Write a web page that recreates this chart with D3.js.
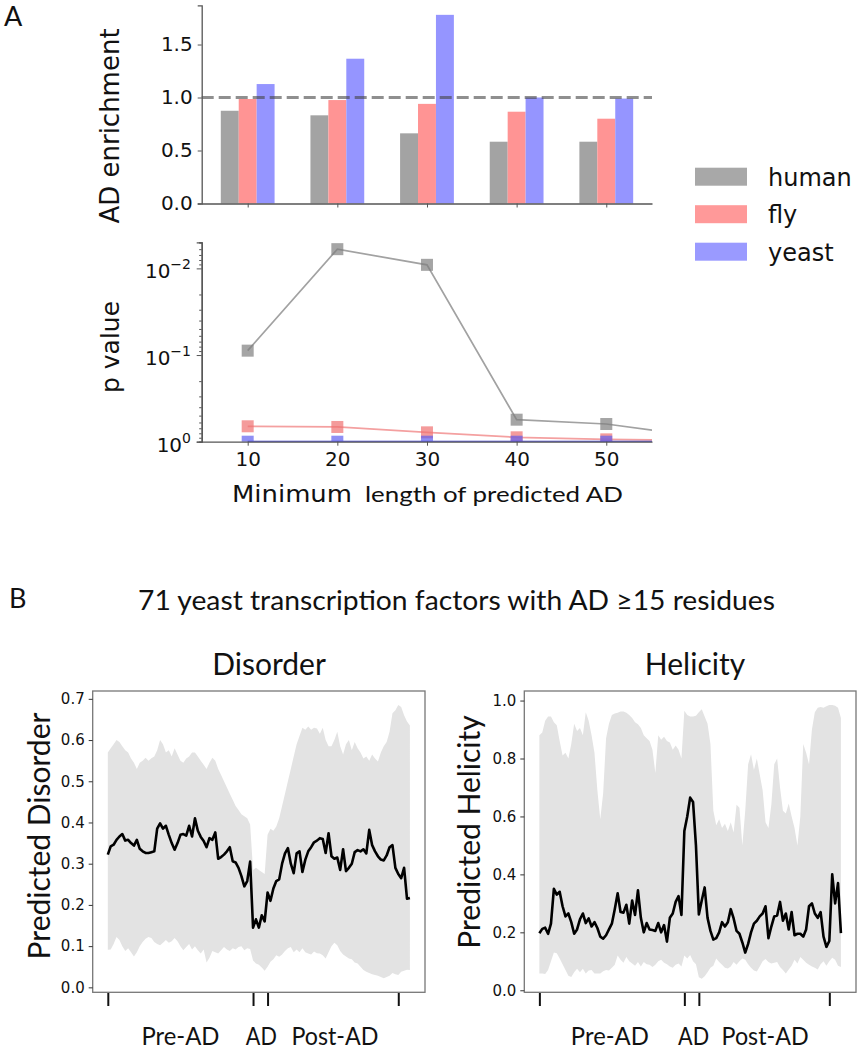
<!DOCTYPE html>
<html>
<head>
<meta charset="utf-8">
<script src="https://cdn.jsdelivr.net/npm/d3@7/dist/d3.min.js"></script>
<style>
body { margin:0; background:#fff; }
text { fill:#111; }
.mpl { font-family:"DejaVu Sans", sans-serif; }
.cal { font-family:Lato, "Open Sans", sans-serif; }
</style>
</head>
<body>
<svg id="fig" width="863" height="1050"></svg>
<script>
// ---- panel A data ----
const lengths      = [10, 20, 30, 40, 50];
const species      = ["human", "fly", "yeast"];
const enrichHuman  = [0.875, 0.832, 0.662, 0.583, 0.583];
const enrichFly    = [0.986, 0.976, 0.940, 0.866, 0.800];
const enrichYeast  = [1.127, 1.366, 1.780, 1.000, 0.990];
const pLengths     = [10, 20, 30, 40, 50, 60];
const pHuman       = [0.089, 0.006, 0.0091, 0.557, 0.625, 0.86];
const pFly         = [0.664, 0.676, 0.78, 0.89, 0.94, 0.97];
const pYeast       = [1, 1, 1, 1, 1, 1];
const enrichTicks  = [0.0, 0.5, 1.0, 1.5];
const pTicks       = [0.01, 0.1, 1];
const pTickExp     = ["\u22122", "\u22121", "0"];

// ---- panel B data (window position along TF, AD = 50..55) ----
const regionTicks  = [0, 50, 55, 100];
const regionLabels = ["Pre-AD", "AD", "Post-AD"];
const disMean = [0.322,0.342,0.346,0.358,0.366,0.372,0.356,0.358,0.350,0.344,0.358,0.336,0.330,0.326,0.326,0.328,0.330,0.385,0.398,0.385,
 0.392,0.370,0.350,0.334,0.350,0.370,0.372,0.368,0.392,0.366,0.410,0.380,0.365,0.355,0.340,0.362,0.358,0.376,0.312,0.316,
 0.322,0.330,0.340,0.306,0.303,0.290,0.270,0.245,0.258,0.305,0.145,0.165,0.145,0.175,0.160,0.230,0.210,0.240,0.258,0.262,
 0.300,0.325,0.338,0.300,0.277,0.325,0.330,0.280,0.310,0.330,0.340,0.352,0.356,0.362,0.360,0.326,0.374,0.318,0.312,0.315,
 0.285,0.335,0.282,0.290,0.300,0.328,0.333,0.330,0.335,0.325,0.382,0.345,0.330,0.318,0.310,0.308,0.320,0.340,0.345,0.290,
 0.275,0.265,0.290,0.215,0.217];
const disUpper = [0.570,0.580,0.590,0.600,0.595,0.585,0.575,0.570,0.555,0.545,0.530,0.545,0.550,0.557,0.550,0.556,0.560,0.575,0.600,0.590,
 0.570,0.575,0.560,0.580,0.565,0.550,0.545,0.555,0.560,0.570,0.570,0.560,0.550,0.540,0.530,0.545,0.557,0.550,0.530,0.515,
 0.500,0.485,0.470,0.455,0.440,0.430,0.420,0.415,0.410,0.395,0.285,0.290,0.285,0.280,0.275,0.370,0.385,0.380,0.390,0.410,
 0.440,0.470,0.500,0.530,0.560,0.590,0.610,0.630,0.625,0.633,0.625,0.630,0.628,0.615,0.630,0.600,0.585,0.585,0.600,0.620,
 0.585,0.565,0.590,0.600,0.575,0.595,0.580,0.570,0.555,0.560,0.550,0.565,0.555,0.548,0.570,0.585,0.595,0.620,0.665,0.672,
 0.685,0.680,0.660,0.645,0.635];
const disLower = [0.091,0.092,0.105,0.122,0.115,0.100,0.088,0.095,0.085,0.075,0.085,0.100,0.110,0.118,0.122,0.120,0.110,0.105,0.102,0.108,
 0.115,0.108,0.112,0.120,0.112,0.100,0.090,0.098,0.105,0.092,0.100,0.090,0.082,0.092,0.060,0.072,0.088,0.085,0.082,0.090,
 0.098,0.092,0.088,0.095,0.092,0.098,0.100,0.090,0.095,0.093,0.065,0.058,0.055,0.048,0.040,0.050,0.062,0.068,0.078,0.074,
 0.080,0.088,0.095,0.098,0.085,0.092,0.085,0.095,0.085,0.082,0.080,0.087,0.083,0.082,0.078,0.070,0.085,0.100,0.108,0.102,
 0.088,0.080,0.075,0.070,0.068,0.060,0.058,0.050,0.042,0.038,0.035,0.032,0.030,0.028,0.025,0.022,0.025,0.028,0.035,0.032,
 0.030,0.038,0.040,0.043,0.042];
const helMean = [0.197,0.212,0.216,0.195,0.230,0.350,0.330,0.340,0.290,0.255,0.265,0.235,0.195,0.210,0.245,0.265,0.232,0.248,0.220,0.235,
 0.215,0.185,0.178,0.190,0.210,0.230,0.280,0.335,0.270,0.268,0.295,0.230,0.310,0.260,0.345,0.250,0.200,0.232,0.210,0.208,
 0.205,0.232,0.200,0.225,0.168,0.250,0.265,0.305,0.325,0.260,0.550,0.600,0.665,0.650,0.500,0.262,0.310,0.355,0.250,0.205,
 0.175,0.180,0.200,0.235,0.220,0.235,0.280,0.248,0.205,0.195,0.165,0.130,0.160,0.200,0.230,0.240,0.255,0.265,0.290,0.180,
 0.220,0.255,0.258,0.305,0.240,0.265,0.210,0.270,0.190,0.195,0.195,0.185,0.210,0.290,0.300,0.265,0.250,0.270,0.185,0.150,
 0.170,0.400,0.300,0.370,0.197];
const helUpper = [0.880,0.890,0.930,0.945,0.945,0.925,0.915,0.860,0.810,0.820,0.800,0.850,0.920,0.895,0.905,0.880,0.960,0.930,0.880,0.820,
 0.690,0.590,0.680,0.870,0.920,0.950,0.955,0.958,0.962,0.962,0.958,0.950,0.940,0.925,0.918,0.905,0.880,0.870,0.860,0.830,
 0.750,0.880,0.865,0.875,0.860,0.855,0.830,0.845,0.830,0.800,0.965,0.950,0.945,0.945,0.948,0.960,0.970,0.945,0.920,0.850,
 0.620,0.570,0.590,0.560,0.575,0.550,0.580,0.545,0.640,0.630,0.500,0.620,0.780,0.815,0.760,0.800,0.745,0.690,0.580,0.560,
 0.640,0.780,0.800,0.700,0.620,0.610,0.645,0.600,0.560,0.500,0.600,0.850,0.820,0.780,0.900,0.960,0.975,0.978,0.975,0.980,
 0.985,0.985,0.982,0.975,0.940];
const helLower = [0.058,0.058,0.056,0.070,0.100,0.130,0.128,0.110,0.090,0.070,0.050,0.046,0.062,0.074,0.062,0.074,0.058,0.068,0.070,0.058,
 0.058,0.058,0.066,0.070,0.068,0.078,0.088,0.120,0.105,0.095,0.115,0.100,0.092,0.085,0.098,0.082,0.098,0.090,0.088,0.080,
 0.088,0.100,0.105,0.095,0.090,0.082,0.078,0.088,0.092,0.082,0.120,0.110,0.122,0.100,0.090,0.045,0.040,0.048,0.062,0.078,
 0.085,0.110,0.098,0.088,0.078,0.075,0.082,0.098,0.088,0.100,0.110,0.105,0.090,0.078,0.068,0.065,0.082,0.100,0.108,0.098,
 0.092,0.095,0.098,0.080,0.070,0.058,0.072,0.085,0.105,0.092,0.115,0.105,0.095,0.088,0.082,0.078,0.072,0.090,0.100,0.085,
 0.100,0.112,0.105,0.085,0.080];

const barColor    = {human:"#a3a3a3", fly:"#ff9494", yeast:"#9595ff"};
const markerColor = {human:"#7f7f7f", fly:"#f07070", yeast:"#6060f0"};
const lineColor   = {human:"#a2a2a2", fly:"#f4a0a0", yeast:"#3030c8"};

const svg = d3.select("#fig");
const axisGrey = "#555";

function styleAxis(g) {
	g.select(".domain").attr("stroke", axisGrey).attr("stroke-width", 1.3);
	g.selectAll(".tick line").attr("stroke", axisGrey);
}

// ================= panel A : enrichment bars =================
const xA = d3.scaleLinear().domain([4.87, 55.1]).range([201.7, 652]);
const yBar = d3.scaleLinear().domain([0, 1.87]).range([203.5, 5.3]);
const barW = xA(12) - xA(10);
const enrich = {human:enrichHuman, fly:enrichFly, yeast:enrichYeast};

species.forEach(function(s, k) {
	svg.append("g").selectAll("rect")
		.data(lengths.map(function(L, i){ return {L:L, v:enrich[s][i]}; }))
		.enter().append("rect")
		.attr("x", function(d){ return xA(d.L + (k - 1) * 2) - barW / 2; })
		.attr("width", barW)
		.attr("y", function(d){ return yBar(d.v); })
		.attr("height", function(d){ return yBar(0) - yBar(d.v); })
		.attr("fill", barColor[s]);
});

svg.append("line")
	.attr("x1", xA.range()[0]).attr("x2", xA.range()[1])
	.attr("y1", yBar(1)).attr("y2", yBar(1))
	.attr("stroke", "#444").attr("stroke-opacity", 0.6)
	.attr("stroke-width", 3).attr("stroke-dasharray", "12,5");

const gBarY = svg.append("g").attr("class", "mpl")
	.attr("transform", "translate(" + xA.range()[0] + ",0)")
	.call(d3.axisLeft(yBar).tickValues(enrichTicks).tickFormat(d3.format(".1f")).tickSize(4).tickPadding(5));
styleAxis(gBarY);
gBarY.selectAll("text").attr("font-size", 20).attr("fill", "#111");

const gBarX = svg.append("g")
	.attr("transform", "translate(0," + yBar(0) + ")")
	.call(d3.axisBottom(xA).tickValues(lengths).tickFormat("").tickSize(4).tickSizeOuter(0));
styleAxis(gBarX);

svg.append("text").attr("class", "mpl")
	.attr("transform", "translate(119,126) rotate(-90)")
	.attr("text-anchor", "middle").attr("font-size", 26)
	.text("AD enrichment");

// legend
species.forEach(function(s, k) {
	const cy = 176.7 + k * 37.5;
	svg.append("rect").attr("x", 695).attr("y", cy - 9).attr("width", 52).attr("height", 18)
		.attr("fill", barColor[s]).attr("opacity", 0.95);
	svg.append("text").attr("class", "mpl").attr("x", 768).attr("y", cy + 9)
		.attr("font-size", 24).text(s);
});

// ================= panel A : p values =================
const yP = d3.scaleLog().domain([1, 0.005]).range([441.7, 242.3]);

svg.append("defs").append("clipPath").attr("id", "pclip")
	.append("rect").attr("x", xA.range()[0]).attr("y", 242.3)
	.attr("width", xA.range()[1] - xA.range()[0]).attr("height", 441.7 - 242.3);

const pData = {human:pHuman, fly:pFly, yeast:pYeast};
const gP = svg.append("g").attr("clip-path", "url(#pclip)");
const pLine = d3.line().x(function(d){ return xA(d.L); }).y(function(d){ return yP(d.p); });

["human", "fly", "yeast"].forEach(function(s) {
	const pts = pLengths.map(function(L, i){ return {L:L, p:pData[s][i]}; });
	gP.append("path").datum(pts)
		.attr("d", pLine).attr("fill", "none")
		.attr("stroke", lineColor[s]).attr("stroke-width", 1.7);
	gP.selectAll("rect." + s).data(pts).enter().append("rect")
		.attr("class", s)
		.attr("x", function(d){ return xA(d.L) - 6; })
		.attr("y", function(d){ return yP(d.p) - 6; })
		.attr("width", 12).attr("height", 12)
		.attr("fill", markerColor[s]).attr("fill-opacity", 0.7);
});

const minorP = [];
[0.001, 0.01, 0.1].forEach(function(dec) {
	for (let m = 2; m <= 9; m++) { const v = dec * m; if (v >= 0.005 && v < 1) minorP.push(v); }
});
const gPYminor = svg.append("g")
	.attr("transform", "translate(" + xA.range()[0] + ",0)")
	.call(d3.axisLeft(yP).tickValues(minorP).tickFormat("").tickSize(2.5));
styleAxis(gPYminor);
const gPY = svg.append("g")
	.attr("transform", "translate(" + xA.range()[0] + ",0)")
	.call(d3.axisLeft(yP).tickValues(pTicks).tickFormat("").tickSize(5));
styleAxis(gPY);

pTicks.forEach(function(v, i) {
	const t = svg.append("text").attr("class", "mpl")
		.attr("x", 191).attr("y", yP(v) + 10)
		.attr("text-anchor", "end").attr("font-size", 20);
	t.append("tspan").text("10");
	t.append("tspan").attr("dy", -9).attr("font-size", 14).text(pTickExp[i]);
});

const gPX = svg.append("g").attr("class", "mpl")
	.attr("transform", "translate(0," + yP(1) + ")")
	.call(d3.axisBottom(xA).tickValues(lengths).tickFormat(d3.format("d")).tickSize(4).tickSizeOuter(0).tickPadding(6));
styleAxis(gPX);
gPX.selectAll("text").attr("font-size", 20).attr("fill", "#111");

svg.append("text").attr("class", "mpl")
	.attr("transform", "translate(119,347) rotate(-90)")
	.attr("text-anchor", "middle").attr("font-size", 25)
	.text("p value");

svg.append("text").attr("class", "mpl").attr("x", 232).attr("y", 502)
	.attr("font-size", 23).attr("textLength", 120).attr("lengthAdjust", "spacingAndGlyphs")
	.text("Minimum");
svg.append("text").attr("class", "cal").attr("x", 365).attr("y", 502)
	.attr("font-size", 22).attr("textLength", 258).attr("lengthAdjust", "spacingAndGlyphs")
	.text("length of predicted AD");

svg.append("text").attr("class", "cal").attr("x", 4).attr("y", 26)
	.attr("font-size", 27).text("A");

// ================= panel B =================
svg.append("text").attr("class", "cal").attr("x", 9).attr("y", 608)
	.attr("font-size", 27).text("B");
svg.append("text").attr("class", "cal").attr("x", 138).attr("y", 609.5)
	.attr("font-size", 27)
	.attr("textLength", 637).attr("lengthAdjust", "spacingAndGlyphs")
	.text("71 yeast transcription factors with AD \u226515 residues");

const regionWidths = [78, 31, 87];

function profilePanel(o) {
	const x = d3.scaleLinear().domain([-5.2, 109.2]).range([o.left, o.right]);
	const y = d3.scaleLinear().domain(o.yDomain).range([992.3, 691]);
	const idx = o.mean.map(function(v, i){ return i; });
	const g = svg.append("g");

	g.append("path").datum(idx)
		.attr("d", d3.area().x(function(i){ return x(i); })
			.y0(function(i){ return y(o.lower[i]); })
			.y1(function(i){ return y(o.upper[i]); }))
		.attr("fill", "#e3e3e3");
	g.append("path").datum(idx)
		.attr("d", d3.line().x(function(i){ return x(i); }).y(function(i){ return y(o.mean[i]); }))
		.attr("fill", "none").attr("stroke", "#000").attr("stroke-width", 2.6)
		.attr("stroke-linejoin", "round");

	g.append("rect").attr("x", o.left).attr("y", 691)
		.attr("width", o.right - o.left).attr("height", 992.3 - 691)
		.attr("fill", "none").attr("stroke", "#777").attr("stroke-width", 1.3);

	const gy = g.append("g").attr("class", "mpl")
		.attr("transform", "translate(" + o.left + ",0)")
		.call(d3.axisLeft(y).tickValues(o.yTicks).tickFormat(d3.format(".1f")).tickSize(4).tickPadding(4));
	gy.select(".domain").remove();
	gy.selectAll(".tick line").attr("stroke", "#333");
	gy.selectAll("text").attr("font-size", 15).attr("fill", "#222");

	const gx = g.append("g")
		.attr("transform", "translate(0,993)")
		.call(d3.axisBottom(x).tickValues(regionTicks).tickFormat("").tickSize(13));
	gx.select(".domain").remove();
	gx.selectAll(".tick line").attr("stroke", "#111").attr("stroke-width", 2);

	[[0, 50], [50, 55], [55, 100]].forEach(function(r, i) {
		g.append("text").attr("class", "cal")
			.attr("x", x((r[0] + r[1]) / 2) + o.labelShift[i] - regionWidths[i] / 2).attr("y", 1045)
			.attr("font-size", 25)
			.attr("textLength", regionWidths[i]).attr("lengthAdjust", "spacingAndGlyphs")
			.text(regionLabels[i]);
	});

	g.append("text").attr("class", "cal")
		.attr("x", o.titleX).attr("y", 675)
		.attr("text-anchor", "middle").attr("font-size", 30).text(o.title);
	g.append("text").attr("class", "cal")
		.attr("transform", "translate(" + o.ylabelX + "," + o.ylabelY + ") rotate(-90)")
		.attr("text-anchor", "middle").attr("font-size", 30).text(o.ylabel);
}

profilePanel({left:92.7, right:425, yDomain:[-0.012, 0.719], yTicks:[0,0.1,0.2,0.3,0.4,0.5,0.6,0.7],
	mean:disMean, upper:disUpper, lower:disLower, title:"Disorder", titleX:269,
	ylabel:"Predicted Disorder", ylabelX:50, ylabelY:836, labelShift:[0, 1, 2]});
profilePanel({left:524.3, right:856, yDomain:[-0.007, 1.033], yTicks:[0,0.2,0.4,0.6,0.8,1.0],
	mean:helMean, upper:helUpper, lower:helLower, title:"Helicity", titleX:695,
	ylabel:"Predicted Helicity", ylabelX:480, ylabelY:832, labelShift:[-2, 2, 1]});
</script>
</body>
</html>
